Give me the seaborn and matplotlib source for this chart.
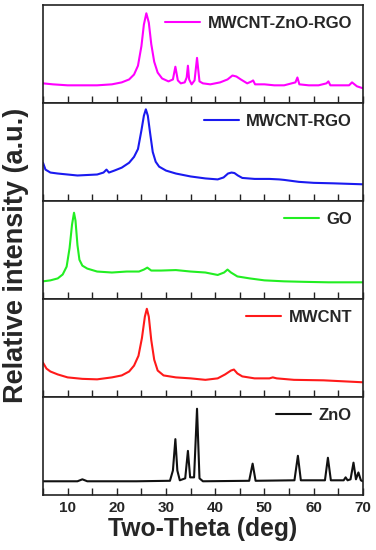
import matplotlib
matplotlib.use("Agg")
import matplotlib.pyplot as plt
import seaborn as sns
import pandas as pd
from matplotlib.ticker import MultipleLocator

# === Data (two-theta, relative intensity) ===
ZNO_RGO = [
    (5, 0.20), (7, 0.19), (10, 0.18), (13, 0.18), (16, 0.18), (19, 0.19),
    (21, 0.21), (22.5, 0.24), (23.5, 0.29), (24.3, 0.38), (25.0, 0.58),
    (25.5, 0.80), (26.0, 0.915), (26.5, 0.82), (27.0, 0.60), (27.6, 0.42),
    (28.3, 0.31), (29.2, 0.25), (30.5, 0.22), (31.4, 0.24), (31.9, 0.37),
    (32.4, 0.23), (33.0, 0.20), (33.8, 0.21), (34.2, 0.26), (34.45, 0.38),
    (34.7, 0.24), (35.2, 0.19), (35.8, 0.23), (36.3, 0.46), (36.8, 0.22),
    (37.5, 0.20), (39, 0.19), (41, 0.21), (42.5, 0.24), (43.5, 0.28),
    (44.3, 0.27), (45.2, 0.24), (46.5, 0.20), (47.4, 0.22), (47.7, 0.23),
    (48.1, 0.19), (50, 0.19), (52, 0.18), (54, 0.18), (56.3, 0.21),
    (56.7, 0.26), (57.1, 0.19), (59, 0.18), (61, 0.18), (62.6, 0.20),
    (63.0, 0.22), (63.4, 0.18), (65, 0.18), (67.2, 0.18), (67.8, 0.21),
    (68.3, 0.19), (68.8, 0.17), (70, 0.15),
]
MWCNT_RGO = [
    (5, 0.39), (5.5, 0.32), (6.5, 0.29), (8, 0.28), (10, 0.27), (12, 0.26),
    (14, 0.265), (16, 0.27), (17.3, 0.29), (17.9, 0.32), (18.4, 0.29),
    (19.5, 0.31), (21, 0.34), (22.5, 0.39), (23.5, 0.45), (24.3, 0.53),
    (25.0, 0.72), (25.5, 0.87), (25.9, 0.935), (26.3, 0.87), (26.8, 0.68),
    (27.3, 0.50), (27.9, 0.40), (28.6, 0.35), (30, 0.31), (32, 0.28),
    (35, 0.25), (38, 0.23), (40.5, 0.22), (41.7, 0.24), (42.6, 0.28),
    (43.3, 0.29), (43.9, 0.285), (44.6, 0.26), (45.5, 0.235), (48, 0.225),
    (51, 0.225), (53, 0.22), (54, 0.215), (57, 0.195), (60, 0.185),
    (64, 0.18), (70, 0.17),
]
GO = [
    (5, 0.18), (6.5, 0.19), (8, 0.21), (9, 0.25), (9.8, 0.33), (10.4, 0.52),
    (10.9, 0.76), (11.3, 0.88), (11.6, 0.80), (12.0, 0.55), (12.4, 0.40),
    (13, 0.34), (14, 0.31), (16, 0.28), (19, 0.27), (22, 0.28), (24.5, 0.28),
    (25.5, 0.30), (26.2, 0.32), (27, 0.29), (29, 0.29), (32, 0.295),
    (35, 0.28), (38, 0.27), (40.5, 0.245), (41.8, 0.27), (42.5, 0.30),
    (43.2, 0.27), (44.5, 0.23), (47, 0.21), (50, 0.19), (54, 0.18),
    (58, 0.175), (63, 0.17), (70, 0.17),
]
MWCNT = [
    (5, 0.35), (5.7, 0.29), (6.5, 0.26), (8, 0.23), (10, 0.20), (13, 0.185),
    (16, 0.18), (19, 0.20), (21, 0.22), (22.5, 0.26), (23.5, 0.32),
    (24.4, 0.42), (25.1, 0.60), (25.7, 0.82), (26.1, 0.90), (26.5, 0.82),
    (27.0, 0.58), (27.6, 0.38), (28.3, 0.27), (29.5, 0.22), (32, 0.20),
    (35, 0.19), (38, 0.175), (40.5, 0.19), (42, 0.23), (43.2, 0.27),
    (43.8, 0.28), (44.5, 0.24), (45.5, 0.21), (48, 0.19), (51, 0.19),
    (51.7, 0.20), (52.5, 0.19), (56, 0.175), (62, 0.17), (70, 0.15),
]
ZNO = [
    (5, 0.14), (12, 0.14), (13, 0.16), (14, 0.14), (24, 0.14), (30.8, 0.145),
    (31.4, 0.25), (31.9, 0.57), (32.3, 0.25), (32.8, 0.15), (33.9, 0.17),
    (34.45, 0.45), (34.9, 0.18), (35.7, 0.18), (36.3, 0.88), (36.8, 0.17),
    (37.5, 0.14), (46.9, 0.145), (47.6, 0.32), (48.2, 0.145), (56.1, 0.15),
    (56.8, 0.40), (57.4, 0.15), (62.3, 0.15), (62.9, 0.38), (63.5, 0.15),
    (66.1, 0.15), (66.5, 0.18), (66.9, 0.15), (67.5, 0.16), (68.1, 0.33),
    (68.6, 0.16), (69.1, 0.23), (69.6, 0.15), (70, 0.14),
]

SAMPLES = ["MWCNT-ZnO-RGO", "MWCNT-RGO", "GO", "MWCNT", "ZnO"]
PATTERNS = [ZNO_RGO, MWCNT_RGO, GO, MWCNT, ZNO]
COLORS = ["#FF00FF", "#1A1AF0", "#22EE22", "#FF1A1A", "#111111"]

sns.set_style("ticks")
plt.rcParams["font.family"] = ["Liberation Sans", "DejaVu Sans"]
plt.rcParams["font.weight"] = "bold"

fig, axes = plt.subplots(5, 1, figsize=(3.76, 5.5), dpi=100, sharex=True)
fig.subplots_adjust(left=0.1144, right=0.965, top=0.991, bottom=0.1, hspace=0)

for ax, name, pattern, color in zip(axes, SAMPLES, PATTERNS, COLORS):
    df = pd.DataFrame(pattern, columns=["theta", "intensity"])
    sns.lineplot(data=df, x="theta", y="intensity", ax=ax, color=color,
                 lw=1.5, label=name, estimator=None, sort=False)
    ax.set_xlim(5, 70)
    ax.set_ylim(0, 1)
    ax.set_yticks([])
    ax.set_xlabel("")
    ax.set_ylabel("")
    ax.xaxis.set_major_locator(MultipleLocator(10))
    ax.xaxis.set_minor_locator(MultipleLocator(5))
    ax.tick_params(axis="x", which="both", direction="in", length=5,
                   width=1.0, color="#222222", bottom=True, top=False,
                   labelsize=11, pad=4)
    for sp in ax.spines.values():
        sp.set_visible(True)
        sp.set_linewidth(1.2)
        sp.set_color("#222222")
    leg = ax.legend(loc="upper right", frameon=False, handlelength=2.1,
                    handletextpad=0.45, borderaxespad=0.25,
                    prop={"weight": "bold", "size": 12})
    for line in leg.get_lines():
        line.set_linewidth(1.5)

for lbl in axes[-1].get_xticklabels():
    lbl.set_fontweight("bold")
axes[-1].set_xlabel("Two-Theta (deg)", fontsize=17.8, fontweight="bold",
                    labelpad=2)
fig.text(0.043, 0.535, "Relative intensity (a.u.)", rotation=90,
         ha="center", va="center", fontsize=19.5, fontweight="bold")

fig.savefig("out.png", dpi=100)
